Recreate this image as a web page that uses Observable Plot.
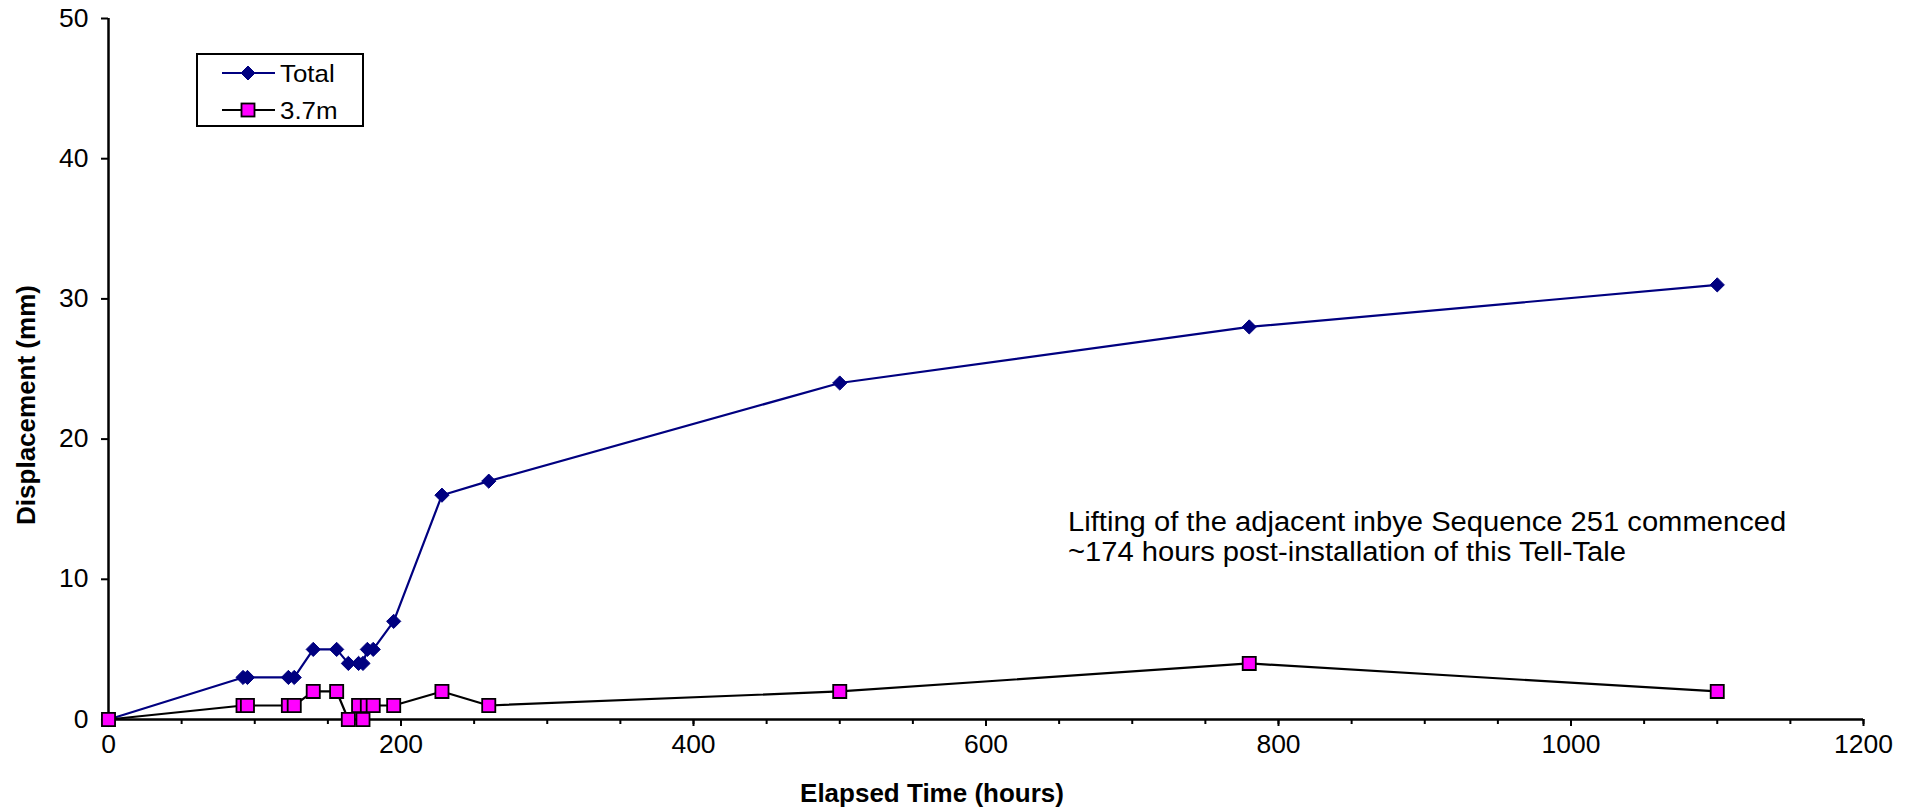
<!DOCTYPE html>
<html>
<head>
<meta charset="utf-8">
<script src="https://cdn.jsdelivr.net/npm/d3@7"></script>
<script src="https://cdn.jsdelivr.net/npm/@observablehq/plot@0.6"></script>
<style>
  html, body { margin: 0; padding: 0; background: #fff; }
  #wrap { position: relative; width: 1918px; height: 811px; overflow: hidden;
          font-family: "Liberation Sans", Arial, sans-serif; color: #000; }
  #wrap svg.chart { position: absolute; left: 0; top: 0; }
  .ytitle { position: absolute; left: 26px; top: 405px; white-space: nowrap;
            font-weight: bold; font-size: 26px;
            transform: translate(-50%, -50%) rotate(-90deg); }
  .xtitle { position: absolute; left: 932px; top: 793px; white-space: nowrap;
            font-weight: bold; font-size: 26px; transform: translate(-50%, -50%); }
  .note { position: absolute; left: 1068px; top: 507px; white-space: nowrap;
          font-size: 27px; line-height: 30px; transform: scaleX(1.08); transform-origin: left top; }
  #legend { position: absolute; left: 196px; top: 53px; }
</style>
</head>
<body>
<div id="wrap"></div>
<script>
// ---- data ----
const hours   = [0, 92, 95, 123, 127, 140, 156, 164, 171, 174, 177, 181, 195, 228, 260, 500, 780, 1100];
const total   = [0, 3, 3, 3, 3, 5, 5, 4, 4, 4, 5, 5, 7, 16, 17, 24, 28, 31];
const m37     = [0, 1, 1, 1, 1, 2, 2, 0, 1, 0, 1, 1, 1, 2, 1, 2, 4, 2];
const seriesNames = ["Total", "3.7m"];
const xTicks = [0, 200, 400, 600, 800, 1000, 1200];
const xMinorTicks = [0, 50, 100, 150, 200, 250, 300, 350, 400, 450, 500, 550, 600, 650, 700, 750, 800, 850, 900, 950, 1000, 1050, 1100, 1150, 1200];
const yTicks = [0, 10, 20, 30, 40, 50];
const xTitle = "Elapsed Time (hours)";
const yTitle = "Displacement (mm)";
const noteLines = ["Lifting of the adjacent inbye Sequence 251 commenced", "~174 hours post-installation of this Tell-Tale"];

const navy = "#000080", magenta = "#ff00ff";

const totalData = hours.map((h, i) => ({h, v: total[i]}));
const m37Data = hours.map((h, i) => ({h, v: m37[i]}));

const chart = Plot.plot({
  width: 1918, height: 811,
  marginLeft: 108, marginRight: 55, marginTop: 18, marginBottom: 92,
  style: {fontFamily: "'Liberation Sans', Arial, sans-serif", fontSize: "25px", color: "#000", background: "transparent", overflow: "visible"},
  x: {domain: [0, 1200], label: null},
  y: {domain: [0, 50], label: null},
  marks: [
    Plot.axisX({ticks: xMinorTicks, tickSize: 5, tickFormat: () => "", label: null, strokeWidth: 2, stroke: "#000"}),
    Plot.axisX({ticks: xTicks, tickSize: 7, tickPadding: 9, tickFormat: d3.format("d"), label: null, strokeWidth: 2, stroke: "#000", fill: "#000"}),
    Plot.axisY({ticks: yTicks, tickSize: 7, tickPadding: 13, tickFormat: d3.format("d"), label: null, strokeWidth: 2, stroke: "#000", fill: "#000"}),
    Plot.ruleY([0], {stroke: "#000", strokeWidth: 2.5}),
    Plot.ruleX([0], {stroke: "#000", strokeWidth: 2.5}),
    Plot.line(totalData, {x: "h", y: "v", stroke: navy, strokeWidth: 2.2}),
    Plot.dot(totalData, {x: "h", y: "v", symbol: "diamond2", r: 6.4, fill: navy, stroke: navy, strokeWidth: 1}),
    Plot.line(m37Data, {x: "h", y: "v", stroke: "#000", strokeWidth: 2.2}),
    Plot.dot(m37Data, {x: "h", y: "v", symbol: "square", r: 7.4, fill: magenta, stroke: "#000", strokeWidth: 1.8})
  ]
});
chart.classList.add("chart");

// slight horizontal stretch of tick labels, as in the reference
d3.select(chart).selectAll("g[aria-label$='tick label'] text").each(function() {
  const t = this.getAttribute("transform");
  if (t) this.setAttribute("transform", t + " scale(1.06,1)");
});

const wrap = document.getElementById("wrap");
wrap.appendChild(chart);

const yt = document.createElement("div"); yt.className = "ytitle"; yt.textContent = yTitle; wrap.appendChild(yt);
const xt = document.createElement("div"); xt.className = "xtitle"; xt.textContent = xTitle; wrap.appendChild(xt);
const note = document.createElement("div"); note.className = "note";
noteLines.forEach(l => { const d = document.createElement("div"); d.textContent = l; note.appendChild(d); });
wrap.appendChild(note);

// legend
const lg = d3.select(wrap).append("svg").attr("id", "legend").attr("width", 168).attr("height", 74);
lg.append("rect").attr("x", 1).attr("y", 1).attr("width", 166).attr("height", 72).attr("fill", "#fff").attr("stroke", "#000").attr("stroke-width", 2);
const rows = [
  {name: seriesNames[0], y: 20, stroke: navy, kind: "diamond"},
  {name: seriesNames[1], y: 57, stroke: "#000", kind: "square"}
];
rows.forEach(r => {
  lg.append("line").attr("x1", 26).attr("x2", 79).attr("y1", r.y).attr("y2", r.y).attr("stroke", r.stroke).attr("stroke-width", 2);
  if (r.kind === "diamond") {
    lg.append("path").attr("d", `M52,${r.y - 7}L59,${r.y}L52,${r.y + 7}L45,${r.y}Z`).attr("fill", navy).attr("stroke", navy);
  } else {
    lg.append("rect").attr("x", 45.5).attr("y", r.y - 6.5).attr("width", 13).attr("height", 13).attr("fill", magenta).attr("stroke", "#000").attr("stroke-width", 1.8);
  }
  lg.append("text").attr("x", 84).attr("y", r.y).attr("dy", "0.36em")
    .attr("font-family", "'Liberation Sans', Arial, sans-serif").attr("font-size", 24)
    .attr("transform", `translate(84,0) scale(1.08,1) translate(-84,0)`)
    .text(r.name);
});
</script>
</body>
</html>
